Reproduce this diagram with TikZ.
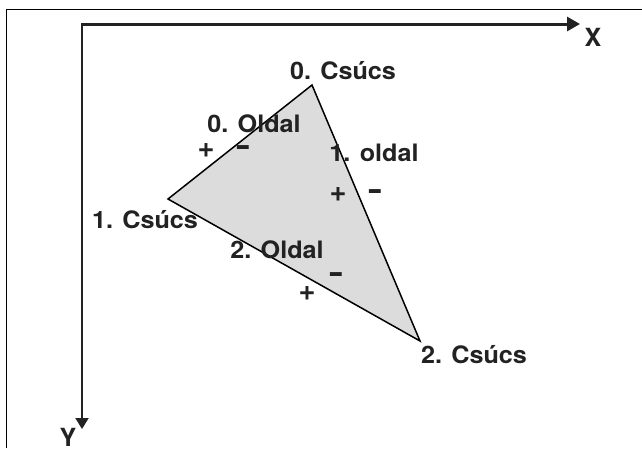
\documentclass[tikz,border=0pt]{standalone}
\usepackage{fontspec}
\newfontfamily\lblfont{TeX Gyre Heros}[FakeStretch=1.05]
\newfontfamily\sgnfont{TeX Gyre Heros}
\usetikzlibrary{arrows.meta}
\definecolor{ink}{HTML}{222222}
\definecolor{tri}{HTML}{DCDCDC}
\tikzset{
  lbl/.style={inner sep=0pt, anchor=base, text=ink, font=\fontsize{24}{28}\lblfont\bfseries},
  sgn/.style={inner sep=0pt, anchor=center, text=ink, font=\fontsize{29}{32}\sgnfont\bfseries},
  axis/.style={draw=ink},
  frame/.style={draw=black, line width=1pt}
}
\begin{document}
\begin{tikzpicture}[x=1pt,y=-1pt]
\useasboundingbox (0,0) rectangle (642,448);
% frame
\coordinate (fb) at (6,448);
\coordinate (fc) at (6,9);
\coordinate (fr) at (642,9);
\draw[frame] (fb) -- (fc) -- (fr);
% triangle
\coordinate (v0) at (312,85);
\coordinate (v1) at (168,199);
\coordinate (v2) at (420,341);
\filldraw[fill=tri, draw=black, line width=1.5pt, line join=miter] (v0) -- (v1) -- (v2) -- cycle;
% axes
\coordinate (o) at (82,24);
\coordinate (xs) at (81,24);
\coordinate (xe) at (580,24);
\coordinate (ye) at (82,429);
\draw[axis, line width=3pt, -{Triangle[length=13pt,width=14pt]}] (xs) -- (xe);
\draw[axis, line width=2pt, -{Triangle[length=11pt,width=13pt]}] (o) -- (ye);
% labels
\node[lbl] (c0) at (343,79) {0. Csúcs};
\node[lbl] (o0) at (254,132) {0. Oldal};
\node[lbl] (o1) at (374,161) {1. oldal};
\node[lbl] (c1) at (145,228) {1. Csúcs};
\node[lbl] (o2) at (277,258) {2. Oldal};
\node[lbl] (c2) at (474,363) {2. Csúcs};
\node[lbl, font=\fontsize{25}{28}\sgnfont\bfseries] (xl) at (593,46) {X};
\node[lbl, font=\fontsize{25}{28}\sgnfont\bfseries] (yl) at (68,446) {Y};
% signs
\node[sgn] (p0) at (206,151) {+};
\node[sgn] (m0) at (243,151) {\scalebox{1.5}[1]{-}};
\node[sgn] (p1) at (338,195) {+};
\node[sgn] (m1) at (375,195) {\scalebox{1.5}[1]{-}};
\node[sgn] (m2) at (336,278) {\scalebox{1.5}[1]{-}};
\node[sgn] (p2) at (307,294) {+};
\end{tikzpicture}
\end{document}
